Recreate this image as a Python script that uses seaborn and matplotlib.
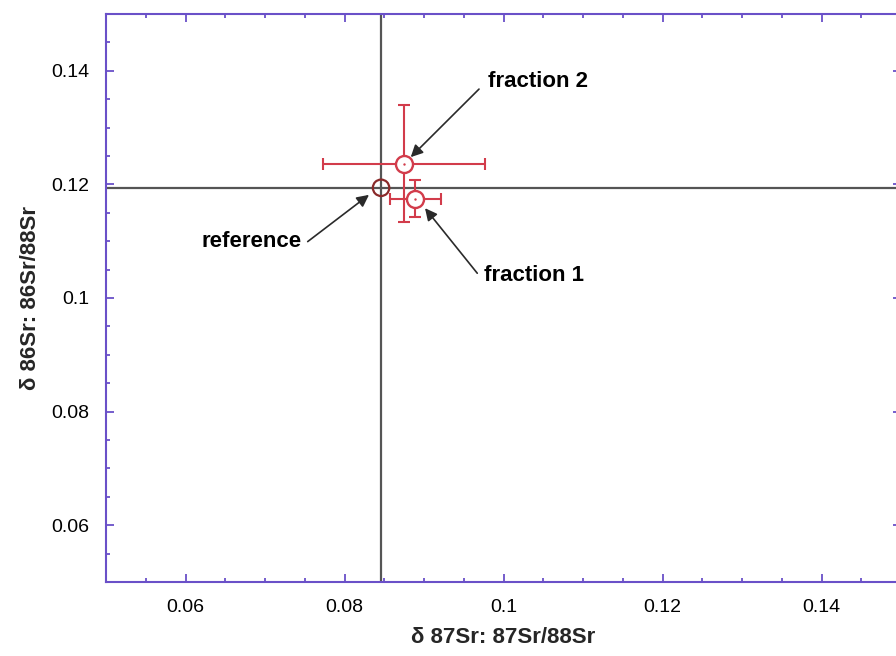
import matplotlib
matplotlib.use("Agg")
import matplotlib.pyplot as plt
import seaborn as sns
import pandas as pd
import numpy as np
from matplotlib.ticker import MultipleLocator

# ---- data ----
labels = ["reference", "fraction 1", "fraction 2"]
d87 = [0.0846, 0.0889, 0.0875]
d86 = [0.1194, 0.1175, 0.1236]
d87_err = [0.0, 0.0032, 0.0102]
d86_err = [0.0, 0.0032, 0.0103]

x_ticks = [0.06, 0.08, 0.1, 0.12, 0.14]
y_ticks = [0.06, 0.08, 0.1, 0.12, 0.14]
x_label = "δ 87Sr: 87Sr/88Sr"
y_label = "δ 86Sr: 86Sr/88Sr"

df = pd.DataFrame({"label": labels, "d87": d87, "d86": d86,
                   "d87_err": d87_err, "d86_err": d86_err})

# ---- style ----
sns.set_style("ticks")
plt.rcParams["font.family"] = ["Liberation Sans", "DejaVu Sans"]

SPINE = "#6a50c8"
RED = "#d23c4b"
GRAY = "#555555"

fig = plt.figure(figsize=(8.96, 6.56), dpi=100)
ax = fig.add_axes([106 / 896, 1 - 582 / 656, 795 / 896, 568 / 656])

ref = df[df["label"] == "reference"].iloc[0]
ax.axvline(ref["d87"], color=GRAY, lw=1.6, zorder=1)
ax.axhline(ref["d86"], color=GRAY, lw=1.6, zorder=1)

fr = df[df["label"] != "reference"]
ax.errorbar(fr["d87"], fr["d86"], xerr=fr["d87_err"], yerr=fr["d86_err"],
            fmt="none", ecolor=RED, elinewidth=1.5, capsize=4.5,
            capthick=1.5, zorder=2)

sns.scatterplot(data=fr, x="d87", y="d86", ax=ax, s=150, facecolor="white",
                edgecolor=RED, linewidth=1.7, zorder=3, legend=False)
sns.scatterplot(data=fr, x="d87", y="d86", ax=ax, s=3, color=RED,
                linewidth=0, zorder=4, legend=False)
sns.scatterplot(x=[ref["d87"]], y=[ref["d86"]], ax=ax, s=140,
                facecolor="none", edgecolor="#8a2a2a", linewidth=1.6,
                zorder=3, legend=False)

ax.set_xlim(0.05, 0.15)
ax.set_ylim(0.05, 0.15)
ax.set_xticks(x_ticks)
ax.set_yticks(y_ticks)
ax.set_xticklabels([f"{v:g}" for v in x_ticks])
ax.set_yticklabels([f"{v:g}" for v in y_ticks])
ax.xaxis.set_minor_locator(MultipleLocator(0.005))
ax.yaxis.set_minor_locator(MultipleLocator(0.005))
ax.tick_params(which="both", direction="in", top=True, right=True,
               color=SPINE, width=1.3)
ax.tick_params(which="major", length=6, labelsize=14, pad=12,
               labelcolor="black")
ax.tick_params(which="minor", length=3)
for s in ax.spines.values():
    s.set_color(SPINE)
    s.set_linewidth(1.5)

ax.set_xlabel(x_label, fontsize=16, fontweight="bold")
ax.set_ylabel(y_label, fontsize=16, fontweight="bold")
ax.xaxis.set_label_coords(0.5, -0.08)
ax.yaxis.set_label_coords(-0.082, 0.5)

# ---- annotations ----
arrow = dict(arrowstyle="-|>", color="#2a2a2a", lw=1.2, mutation_scale=18,
             shrinkA=0, shrinkB=0)
ann = [
    ("fraction 2", (0.09805, 0.13807), "left", (0.09692, 0.13678), (0.08833, 0.12480)),
    ("reference", (0.07465, 0.10988), "right", (0.07537, 0.10993), (0.08308, 0.11816)),
    ("fraction 1", (0.09755, 0.10389), "left", (0.09670, 0.10436), (0.09013, 0.11581)),
]
for txt, tpos, ha, tail, head in ann:
    ax.annotate("", xy=head, xytext=tail, arrowprops=arrow, zorder=5)
    ax.text(tpos[0], tpos[1], txt, ha=ha, va="center", fontsize=16,
            fontweight="bold", color="black", zorder=6)

fig.savefig("out.png", dpi=100)
